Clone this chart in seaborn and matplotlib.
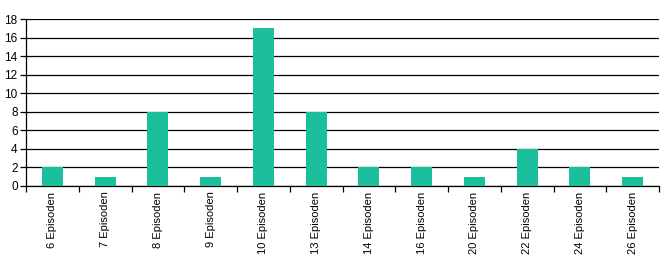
import matplotlib
matplotlib.use("Agg")
import matplotlib.pyplot as plt
import seaborn as sns
import numpy as np
import pandas as pd

categories = ["6 Episoden", "7 Episoden", "8 Episoden", "9 Episoden", "10 Episoden",
              "13 Episoden", "14 Episoden", "16 Episoden", "20 Episoden", "22 Episoden",
              "24 Episoden", "26 Episoden"]
values = [2, 1, 8, 1, 17, 8, 2, 2, 1, 4, 2, 1]
yticks = [0, 2, 4, 6, 8, 10, 12, 14, 16, 18]

sns.set_style("white")
plt.rcParams['font.family'] = ['Liberation Sans', 'DejaVu Sans']
plt.rcParams['text.color'] = 'black'
plt.rcParams['xtick.color'] = 'black'
plt.rcParams['ytick.color'] = 'black'

df = pd.DataFrame({"cat": categories, "val": values})
fig = plt.figure(figsize=(6.7, 2.6), dpi=100)
ax = fig.add_axes([26/670, 1-186/260, (659-26)/670, (186-19)/260])
sns.barplot(data=df, x="cat", y="val", color="#1BBF9C", width=0.4, saturation=1,
            linewidth=0, edgecolor="none", ax=ax, zorder=3)
ax.set_ylim(0, 18)
ax.set_xlim(-0.5, len(categories)-0.5)
ax.set_yticks(yticks)
ax.yaxis.grid(True, color="black", linewidth=0.9, zorder=0)
ax.set_axisbelow(True)
ax.set_xlabel("")
ax.set_ylabel("")
for s in ["top", "right"]:
    ax.spines[s].set_visible(False)
for s in ["left", "bottom"]:
    ax.spines[s].set_color("black")
    ax.spines[s].set_linewidth(0.9)
ax.tick_params(axis="y", which="major", left=True, length=4, width=0.9, color="black",
               labelsize=8.5, pad=2, labelcolor="black")
ax.set_xticks(range(len(categories)))
ax.set_xticklabels(categories, rotation=90, fontsize=8, color="black")
ax.tick_params(axis="x", which="major", bottom=False, length=0, pad=4)
ax.set_xticks(np.arange(-0.5, len(categories), 1.0), minor=True)
ax.tick_params(axis="x", which="minor", bottom=True, length=4, width=0.9, color="black")
fig.savefig("out.png", dpi=100)
